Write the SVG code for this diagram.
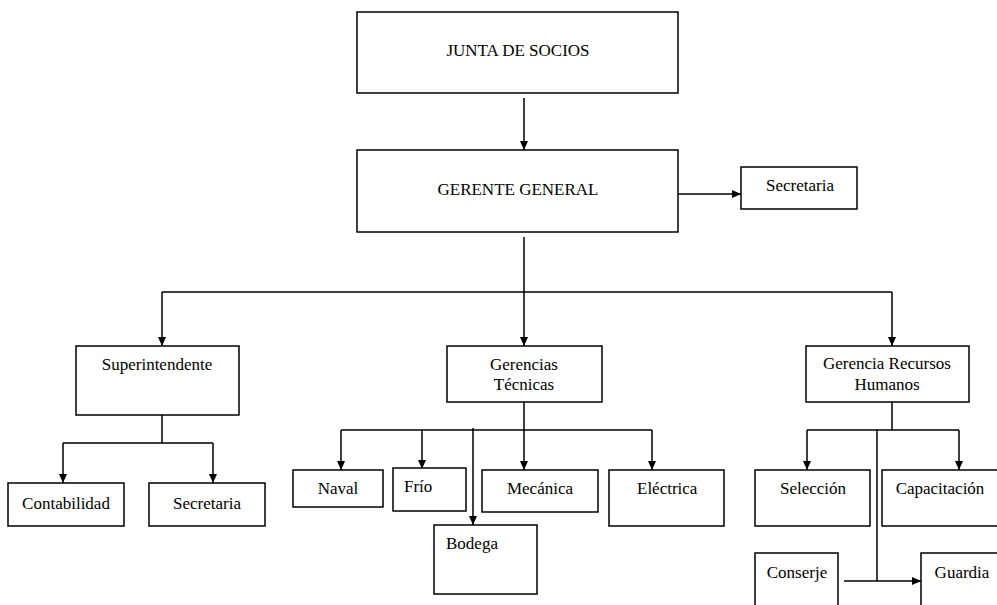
<svg xmlns="http://www.w3.org/2000/svg" width="997" height="605" viewBox="0 0 997 605">
<defs>
<marker id="ah" markerWidth="10" markerHeight="10" refX="9" refY="5" orient="auto" markerUnits="userSpaceOnUse">
<path d="M0,1 L9,5 L0,9 Z" fill="#000"/>
</marker>
<style>
rect{fill:#fff;stroke:#000;stroke-width:1.5}
text{font-family:"Liberation Serif","Times New Roman",serif;font-size:17px;fill:#000}
.c{text-anchor:middle}
#connectors path{fill:none;stroke:#000;stroke-width:1.5}
.a{marker-end:url(#ah)}
</style>
</defs>
<rect x="0" y="0" width="997" height="605" style="fill:#fff;stroke:none"/>
<g id="connectors">
<path class="a" d="M524,98 V150"/>
<path class="a" d="M678,194 H741"/>
<path d="M524,237 V292 M162,292 H892"/>
<path class="a" d="M162,292 V346"/>
<path class="a" d="M524,292 V346"/>
<path class="a" d="M892,292 V346"/>
<path d="M162,415 V443 M63,443 H213"/>
<path class="a" d="M63,443 V483"/>
<path class="a" d="M213,443 V483"/>
<path d="M524,402 V430 M341,430 H652"/>
<path class="a" d="M341,430 V470"/>
<path class="a" d="M422,430 V469"/>
<path class="a" d="M524,430 V470"/>
<path class="a" d="M652,430 V470"/>
<path class="a" d="M473,428 V525"/>
<path d="M892,402 V430 M807,430 H959"/>
<path class="a" d="M807,430 V470"/>
<path class="a" d="M959,430 V470"/>
<path d="M877,429 V581"/>
<path class="a" d="M844,581 H921"/>
</g>
<g id="junta"><rect x="357" y="12" width="321" height="81"/><text class="c" x="518" y="56">JUNTA DE SOCIOS</text></g>
<g id="gerente"><rect x="357" y="150" width="321" height="82"/><text class="c" x="518" y="195">GERENTE GENERAL</text></g>
<g id="secretaria1"><rect x="741" y="167" width="116" height="42"/><text class="c" x="800" y="191">Secretaria</text></g>
<g id="superintendente"><rect x="76" y="346" width="163" height="69"/><text class="c" x="157" y="370">Superintendente</text></g>
<g id="gerencias-tecnicas"><rect x="447" y="346" width="155" height="56"/><text class="c" x="524" y="370">Gerencias</text><text class="c" x="524" y="390">Técnicas</text></g>
<g id="rrhh"><rect x="806" y="346" width="163" height="56"/><text class="c" x="887" y="369">Gerencia Recursos</text><text class="c" x="887" y="390">Humanos</text></g>
<g id="contabilidad"><rect x="8" y="483" width="116" height="43"/><text class="c" x="66" y="509">Contabilidad</text></g>
<g id="secretaria2"><rect x="149" y="483" width="116" height="43"/><text class="c" x="207" y="509">Secretaria</text></g>
<g id="naval"><rect x="293" y="470" width="90" height="37"/><text class="c" x="338" y="494">Naval</text></g>
<g id="frio"><rect x="393" y="468" width="73" height="43"/><text x="404" y="492">Frío</text></g>
<g id="mecanica"><rect x="482" y="470" width="116" height="42"/><text class="c" x="540" y="494">Mecánica</text></g>
<g id="electrica"><rect x="609" y="470" width="115" height="56"/><text x="637" y="494">Eléctrica</text></g>
<g id="bodega"><rect x="434" y="525" width="103" height="69"/><text x="446" y="549">Bodega</text></g>
<g id="seleccion"><rect x="755" y="470" width="115" height="56"/><text class="c" x="813" y="494">Selección</text></g>
<g id="capacitacion"><rect x="882" y="470" width="116" height="56"/><text class="c" x="940" y="494">Capacitación</text></g>
<g id="conserje"><rect x="755" y="553" width="83" height="60"/><text class="c" x="797" y="578">Conserje</text></g>
<g id="guardia"><rect x="921" y="553" width="80" height="60"/><text class="c" x="962" y="578">Guardia</text></g>
</svg>
